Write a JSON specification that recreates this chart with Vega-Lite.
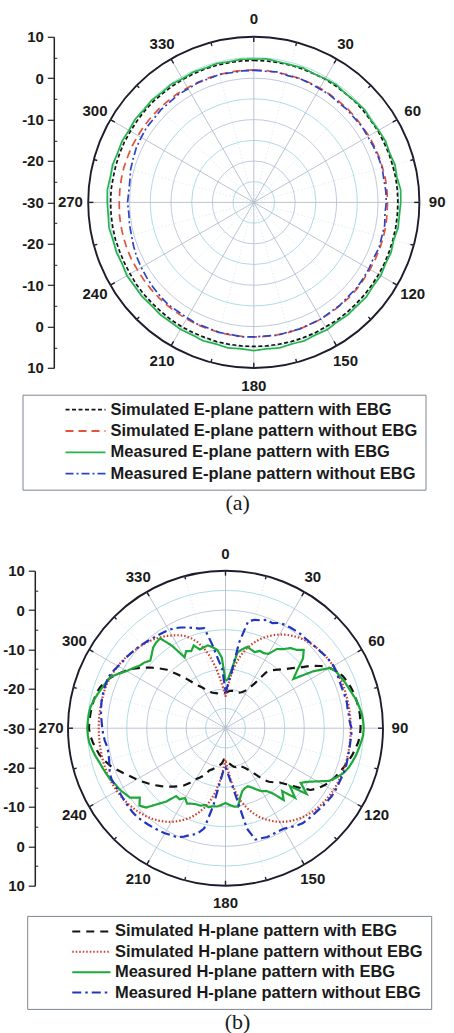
{
"$schema": "https://vega.github.io/schema/vega-lite/v6.json",
"background": "white",
"padding": {"left": 2, "top": 11.8, "right": 0, "bottom": 0},
"spacing": 31.9,
"config": {"view": {"stroke": null}},
"datasets": {
"rings": [{"g":-25},{"g":-20},{"g":-15},{"g":-10},{"g":-5},{"g":0},{"g":5},{"g":10}],
"ang": [{"a":0},{"a":15},{"a":30},{"a":45},{"a":60},{"a":75},{"a":90},{"a":105},{"a":120},{"a":135},{"a":150},{"a":165},{"a":180},{"a":195},{"a":210},{"a":225},{"a":240},{"a":255},{"a":270},{"a":285},{"a":300},{"a":315},{"a":330},{"a":345}],
"e": [
{"a":0,"p":4.3,"q":2.0,"r":4.6,"s":1.9},{"a":5,"p":4.3,"q":2.0,"r":4.8,"s":1.8},{"a":10,"p":4.3,"q":1.9,"r":4.5,"s":2.0},{"a":15,"p":4.3,"q":1.9,"r":4.4,"s":1.7},{"a":20,"p":4.3,"q":1.9,"r":4.6,"s":1.9},{"a":25,"p":4.3,"q":1.9,"r":4.3,"s":1.8},{"a":30,"p":4.4,"q":1.9,"r":4.5,"s":1.7},{"a":35,"p":4.4,"q":1.9,"r":4.7,"s":1.8},{"a":40,"p":4.4,"q":1.9,"r":4.4,"s":1.6},{"a":45,"p":4.5,"q":2.0,"r":4.6,"s":1.8},{"a":50,"p":4.5,"q":2.0,"r":4.9,"s":1.7},{"a":55,"p":4.5,"q":2.0,"r":4.6,"s":1.9},{"a":60,"p":4.6,"q":2.1,"r":4.8,"s":1.8},{"a":65,"p":4.6,"q":2.1,"r":5.1,"s":1.9},{"a":70,"p":4.7,"q":2.2,"r":4.9,"s":2.0},{"a":75,"p":4.7,"q":2.2,"r":5.3,"s":2.1},{"a":80,"p":4.8,"q":2.3,"r":5.1,"s":1.9},{"a":85,"p":4.8,"q":2.3,"r":5.6,"s":2.0},{"a":90,"p":4.8,"q":2.3,"r":5.5,"s":2.0},{"a":95,"p":4.8,"q":2.3,"r":5.3,"s":1.8},{"a":100,"p":4.8,"q":2.4,"r":5.4,"s":2.1},{"a":105,"p":4.8,"q":2.4,"r":5.0,"s":2.0},{"a":110,"p":4.8,"q":2.4,"r":5.3,"s":2.2},{"a":115,"p":4.8,"q":2.4,"r":5.1,"s":1.9},{"a":120,"p":4.8,"q":2.4,"r":5.4,"s":2.1},{"a":125,"p":4.8,"q":2.4,"r":5.2,"s":2.2},{"a":130,"p":4.8,"q":2.5,"r":5.5,"s":2.3},{"a":135,"p":4.8,"q":2.5,"r":5.3,"s":2.2},{"a":140,"p":4.8,"q":2.5,"r":5.4,"s":2.4},{"a":145,"p":4.8,"q":2.5,"r":5.2,"s":2.3},{"a":150,"p":4.7,"q":2.5,"r":5.5,"s":2.5},{"a":155,"p":4.8,"q":2.5,"r":5.3,"s":2.4},{"a":160,"p":4.8,"q":2.5,"r":5.6,"s":2.5},{"a":165,"p":4.8,"q":2.5,"r":5.4,"s":2.4},{"a":170,"p":4.8,"q":2.5,"r":5.7,"s":2.6},{"a":175,"p":4.8,"q":2.5,"r":5.5,"s":2.4},{"a":180,"p":4.8,"q":2.5,"r":5.8,"s":2.5},{"a":185,"p":4.8,"q":2.5,"r":5.5,"s":2.6},{"a":190,"p":4.8,"q":2.5,"r":5.7,"s":2.4},{"a":195,"p":4.8,"q":2.5,"r":5.4,"s":2.5},{"a":200,"p":4.7,"q":2.5,"r":5.6,"s":2.3},{"a":205,"p":4.7,"q":2.5,"r":5.3,"s":2.4},{"a":210,"p":4.7,"q":2.5,"r":5.4,"s":2.2},{"a":215,"p":4.7,"q":2.5,"r":5.2,"s":2.1},{"a":220,"p":4.6,"q":2.5,"r":5.3,"s":2.2},{"a":225,"p":4.6,"q":2.5,"r":5.1,"s":2.0},{"a":230,"p":4.6,"q":2.5,"r":5.3,"s":1.8},{"a":235,"p":4.6,"q":2.5,"r":5.2,"s":1.6},{"a":240,"p":4.5,"q":2.5,"r":5.4,"s":1.4},{"a":245,"p":4.5,"q":2.6,"r":5.1,"s":1.2},{"a":250,"p":4.5,"q":2.6,"r":5.3,"s":0.9},{"a":255,"p":4.6,"q":2.6,"r":5.2,"s":0.6},{"a":260,"p":4.6,"q":2.6,"r":5.5,"s":0.5},{"a":265,"p":4.6,"q":2.6,"r":5.3,"s":0.3},{"a":270,"p":4.6,"q":2.5,"r":5.4,"s":0.5},{"a":275,"p":4.6,"q":2.5,"r":5.5,"s":0.3},{"a":280,"p":4.5,"q":2.5,"r":5.2,"s":0.4},{"a":285,"p":4.5,"q":2.5,"r":5.3,"s":0.8},{"a":290,"p":4.5,"q":2.4,"r":5.0,"s":1.0},{"a":295,"p":4.5,"q":2.4,"r":5.1,"s":1.3},{"a":300,"p":4.4,"q":2.3,"r":4.8,"s":1.4},{"a":305,"p":4.4,"q":2.3,"r":5.0,"s":1.6},{"a":310,"p":4.4,"q":2.2,"r":4.7,"s":1.5},{"a":315,"p":4.4,"q":2.2,"r":4.9,"s":1.7},{"a":320,"p":4.3,"q":2.1,"r":4.6,"s":1.6},{"a":325,"p":4.3,"q":2.1,"r":4.8,"s":1.8},{"a":330,"p":4.3,"q":2.0,"r":4.5,"s":1.7},{"a":335,"p":4.3,"q":2.0,"r":4.7,"s":1.9},{"a":340,"p":4.3,"q":2.0,"r":4.5,"s":1.8},{"a":345,"p":4.3,"q":2.0,"r":4.7,"s":2.0},{"a":350,"p":4.3,"q":2.0,"r":4.5,"s":1.8},{"a":355,"p":4.3,"q":2.0,"r":4.7,"s":1.9},{"a":360,"p":4.3,"q":2.0,"r":4.6,"s":1.9}
],
"h": [
{"a":0,"p":-21,"q":-22,"r":-18,"s":-21},{"a":3,"p":-20.8,"q":-19.5,"r":-17.5,"s":-19},{"a":6,"p":-20.5,"q":-16.5,"r":-15,"s":-16},{"a":9,"p":-20.4,"q":-13.5,"r":-10.5,"s":-8},{"a":12,"p":-20.3,"q":-11,"r":-9.5,"s":-2.2},{"a":15,"p":-20.4,"q":-9,"r":-8.6,"s":-1.5},{"a":18,"p":-20.5,"q":-7.3,"r":-9,"s":-1.2},{"a":21,"p":-20.3,"q":-5.8,"r":-9.3,"s":-0.5},{"a":24,"p":-20,"q":-4.6,"r":-8.5,"s":-0.8},{"a":27,"p":-19.5,"q":-3.5,"r":-8.6,"s":0},{"a":30,"p":-18.5,"q":-2.5,"r":-8.2,"s":0.3},{"a":33,"p":-16.5,"q":-1.7,"r":-6,"s":0.4},{"a":36,"p":-12.5,"q":-1.0,"r":-5.2,"s":0.5},{"a":39,"p":-11,"q":-0.4,"r":-3.8,"s":0.6},{"a":42,"p":-10,"q":0.1,"r":-3.2,"s":0.5},{"a":45,"p":-8.8,"q":0.5,"r":-1.9,"s":0.6},{"a":48,"p":-7.2,"q":0.8,"r":-3.5,"s":0.8},{"a":51,"p":-5.5,"q":1.1,"r":-6.5,"s":1.0},{"a":54,"p":-3,"q":1.3,"r":-8.7,"s":1.3},{"a":57,"p":-1,"q":1.5,"r":-3.5,"s":1.5},{"a":60,"p":0.6,"q":1.6,"r":0.6,"s":1.7},{"a":63,"p":1.8,"q":1.7,"r":1.6,"s":1.6},{"a":66,"p":2.6,"q":1.7,"r":2.0,"s":1.4},{"a":69,"p":3.1,"q":1.8,"r":2.5,"s":1.3},{"a":72,"p":3.5,"q":1.8,"r":2.9,"s":1.3},{"a":75,"p":3.8,"q":1.8,"r":3.4,"s":1.4},{"a":78,"p":4.0,"q":1.8,"r":4.0,"s":1.5},{"a":81,"p":4.2,"q":1.8,"r":4.4,"s":1.4},{"a":84,"p":4.3,"q":1.8,"r":4.8,"s":1.5},{"a":87,"p":4.3,"q":1.8,"r":5.0,"s":1.6},{"a":90,"p":4.3,"q":1.8,"r":5.1,"s":2.0},{"a":93,"p":4.2,"q":1.8,"r":5.0,"s":2.0},{"a":96,"p":3.9,"q":1.8,"r":4.6,"s":1.9},{"a":99,"p":3.4,"q":1.8,"r":4.2,"s":1.9},{"a":102,"p":2.9,"q":1.8,"r":3.8,"s":1.9},{"a":105,"p":2.3,"q":1.8,"r":3.3,"s":2.0},{"a":108,"p":1.7,"q":1.8,"r":2.8,"s":2.1},{"a":111,"p":1.1,"q":1.8,"r":2.0,"s":2.1},{"a":114,"p":0.5,"q":1.7,"r":0.8,"s":2.0},{"a":117,"p":-0.1,"q":1.7,"r":-0.5,"s":2.0},{"a":120,"p":-1,"q":1.6,"r":-3,"s":2.1},{"a":123,"p":-2,"q":1.5,"r":-5,"s":2.0},{"a":126,"p":-3.3,"q":1.3,"r":-6.4,"s":1.8},{"a":129,"p":-6,"q":1.1,"r":-3.5,"s":1.6},{"a":132,"p":-8.5,"q":0.8,"r":-8,"s":1.4},{"a":135,"p":-10.5,"q":0.5,"r":-5,"s":1.3},{"a":138,"p":-11.5,"q":0.1,"r":-8.5,"s":1.2},{"a":141,"p":-12.5,"q":-0.4,"r":-6.5,"s":1.1},{"a":144,"p":-14,"q":-1.0,"r":-9.5,"s":0.6},{"a":147,"p":-16,"q":-1.7,"r":-11,"s":0},{"a":150,"p":-17.5,"q":-2.5,"r":-11.5,"s":-0.5},{"a":153,"p":-18.5,"q":-3.5,"r":-12.5,"s":-0.6},{"a":156,"p":-19.2,"q":-4.6,"r":-13.5,"s":-0.5},{"a":159,"p":-19.7,"q":-5.8,"r":-14.2,"s":-0.4},{"a":162,"p":-20,"q":-7.3,"r":-14,"s":-0.6},{"a":165,"p":-19.8,"q":-9,"r":-13.5,"s":-0.7},{"a":168,"p":-20,"q":-11,"r":-12,"s":-4},{"a":171,"p":-20.5,"q":-13.5,"r":-9.8,"s":-12},{"a":174,"p":-21,"q":-16.5,"r":-10,"s":-16},{"a":177,"p":-21.5,"q":-19.5,"r":-10.5,"s":-18.5},{"a":180,"p":-22,"q":-22,"r":-11,"s":-20},
{"a":183,"p":-22,"q":-19.5,"r":-10.5,"s":-19},{"a":186,"p":-21,"q":-16.5,"r":-10,"s":-16},{"a":189,"p":-20.5,"q":-13.5,"r":-9.9,"s":-10},{"a":192,"p":-20,"q":-11,"r":-9.5,"s":-4},{"a":195,"p":-19.5,"q":-9,"r":-9.8,"s":-2.2},{"a":198,"p":-19,"q":-7.3,"r":-9.3,"s":-1.5},{"a":201,"p":-18.5,"q":-5.8,"r":-9.3,"s":-0.5},{"a":204,"p":-17,"q":-4.6,"r":-9,"s":0.3},{"a":207,"p":-16,"q":-3.5,"r":-8.5,"s":0.5},{"a":210,"p":-15,"q":-2.5,"r":-9.5,"s":0.8},{"a":213,"p":-13.5,"q":-1.7,"r":-8.5,"s":1.0},{"a":216,"p":-12,"q":-1.0,"r":-8.7,"s":1.2},{"a":219,"p":-11,"q":-0.4,"r":-6,"s":1.4},{"a":222,"p":-10,"q":0.1,"r":-4,"s":1.6},{"a":225,"p":-9,"q":0.5,"r":-1.5,"s":1.8},{"a":228,"p":-8,"q":0.9,"r":-0.6,"s":1.8},{"a":231,"p":-7,"q":1.2,"r":-2,"s":1.7},{"a":234,"p":-6,"q":1.5,"r":0,"s":1.6},{"a":237,"p":-5,"q":1.7,"r":0.5,"s":1.5},{"a":240,"p":-4,"q":1.9,"r":1.1,"s":1.5},{"a":243,"p":-3,"q":2.0,"r":1.4,"s":1.6},{"a":246,"p":-1.8,"q":2.1,"r":2.0,"s":1.7},{"a":249,"p":-0.5,"q":2.2,"r":2.4,"s":1.5},{"a":252,"p":0.8,"q":2.2,"r":2.8,"s":1.0},{"a":255,"p":1.8,"q":2.2,"r":3.2,"s":0.6},{"a":258,"p":2.7,"q":2.2,"r":3.8,"s":0.4},{"a":261,"p":3.3,"q":2.2,"r":4.3,"s":0.4},{"a":264,"p":3.9,"q":2.2,"r":4.8,"s":0.8},{"a":267,"p":4.4,"q":2.2,"r":5.0,"s":1.1},{"a":270,"p":4.7,"q":2.2,"r":5.1,"s":1.3},{"a":273,"p":4.6,"q":2.2,"r":5.0,"s":1.5},{"a":276,"p":4.5,"q":2.2,"r":4.9,"s":1.8},{"a":279,"p":4.4,"q":2.2,"r":4.7,"s":2.0},{"a":282,"p":4.2,"q":2.2,"r":4.2,"s":2.2},{"a":285,"p":4.0,"q":2.2,"r":3.6,"s":2.3},{"a":288,"p":3.5,"q":2.2,"r":3.0,"s":2.4},{"a":291,"p":2.8,"q":2.1,"r":2.5,"s":2.4},{"a":294,"p":1.8,"q":2.0,"r":2.0,"s":2.4},{"a":297,"p":0.5,"q":1.8,"r":0.5,"s":2.0},{"a":300,"p":-0.8,"q":1.6,"r":-1,"s":1.5},{"a":303,"p":-2.2,"q":1.3,"r":-2,"s":1.1},{"a":306,"p":-3.8,"q":1.0,"r":-3,"s":0.9},{"a":309,"p":-5.5,"q":0.6,"r":-3.5,"s":0.6},{"a":312,"p":-7.3,"q":0.2,"r":-4.3,"s":0.3},{"a":315,"p":-9,"q":-0.1,"r":-3.5,"s":0.0},{"a":318,"p":-11.5,"q":-0.5,"r":-2.5,"s":-0.3},{"a":321,"p":-13.5,"q":-1.0,"r":-2,"s":-0.6},{"a":324,"p":-15.5,"q":-1.5,"r":-1.8,"s":-0.8},{"a":327,"p":-17,"q":-2.1,"r":-5,"s":-1.0},{"a":330,"p":-18,"q":-2.8,"r":-9.2,"s":-1.2},{"a":333,"p":-19,"q":-3.5,"r":-8,"s":-1.5},{"a":336,"p":-19.8,"q":-4.3,"r":-8.6,"s":-2.0},{"a":339,"p":-20.3,"q":-5.5,"r":-7.5,"s":-2.6},{"a":342,"p":-20.6,"q":-7,"r":-9,"s":-3.2},{"a":345,"p":-20.8,"q":-9,"r":-8.7,"s":-3.8},{"a":348,"p":-21,"q":-11.5,"r":-8.5,"s":-4.0},{"a":351,"p":-21,"q":-14.5,"r":-9.2,"s":-8.5},{"a":354,"p":-21,"q":-17.5,"r":-10,"s":-12.5},{"a":357,"p":-21,"q":-20,"r":-12,"s":-15},{"a":360,"p":-21,"q":-22,"r":-18,"s":-21}
]
},
"vconcat": [
{
"width": 351.4, "height": 331.2,
"title": {"text": "(a)", "orient": "bottom", "frame": "group", "anchor": "middle", "offset": 3, "dx": -6, "font": "Liberation Serif", "fontSize": 22, "fontWeight": "normal", "color": "#1a1a1a"},
"resolve": {"axis": {"y": "independent"}},
"layer": [
{"data": {"name": "rings"}, "transform": [{"calculate": "datum.g + 30", "as": "gr"}],
 "mark": {"type": "arc", "filled": false, "theta": 0, "theta2": 6.2832},
 "encoding": {
  "x": {"datum": 0, "type": "quantitative", "scale": {"domain": [-44.88, 40], "nice": false, "zero": false}, "axis": null},
  "y": {"datum": 0, "type": "quantitative", "scale": {"domain": [-40, 40], "nice": false, "zero": false}, "axis": {"orient": "left", "offset": 14.2, "values": [-35,-25,-15,-5,5,15,25,35], "labels": false, "domain": false, "grid": false, "tickSize": -3, "tickColor": "#222222", "tickWidth": 1, "title": null}},
  "radius": {"field": "gr", "type": "quantitative", "stack": null, "scale": {"type": "linear", "domain": [0, 40], "range": [0, 165.6], "nice": false}},
  "stroke": {"condition": [{"test": "datum.g == 10", "value": "#1c1c2c"}, {"test": "(datum.g + 30) % 10 == 5", "value": "#9fd6de"}], "value": "#b3c0d8"},
  "strokeWidth": {"condition": {"test": "datum.g == 10", "value": 1.9}, "value": 0.85},
  "strokeDash": {"condition": {"test": "(datum.g + 30) % 10 == 5", "value": [1.5, 2]}, "value": [1, 0]}
 }},
{"data": {"name": "ang"}, "transform": [{"filter": "datum.a % 30 == 15"}, {"calculate": "40*sin(datum.a*PI/180)", "as": "ex"}, {"calculate": "40*cos(datum.a*PI/180)", "as": "ey"}],
 "mark": {"type": "rule", "stroke": "#cfe7eb", "strokeWidth": 0.7, "strokeDash": [1.5, 2]},
 "encoding": {
  "x": {"field": "ex", "type": "quantitative", "scale": {"domain": [-44.88, 40], "nice": false, "zero": false}, "axis": null},
  "y": {"field": "ey", "type": "quantitative", "scale": {"domain": [-40, 40], "nice": false, "zero": false}, "axis": null},
  "x2": {"datum": 0}, "y2": {"datum": 0}
 }},
{"data": {"name": "ang"}, "transform": [{"filter": "datum.a % 30 == 0"}, {"calculate": "40*sin(datum.a*PI/180)", "as": "ex"}, {"calculate": "40*cos(datum.a*PI/180)", "as": "ey"}],
 "mark": {"type": "rule", "stroke": "#b3bccc", "strokeWidth": 0.9},
 "encoding": {
  "x": {"field": "ex", "type": "quantitative", "scale": {"domain": [-44.88, 40], "nice": false, "zero": false}, "axis": null},
  "y": {"field": "ey", "type": "quantitative", "scale": {"domain": [-40, 40], "nice": false, "zero": false}, "axis": null},
  "x2": {"datum": 0}, "y2": {"datum": 0}
 }},
{"data": {"name": "ang"}, "transform": [{"calculate": "datum.a % 30 == 0 ? 1.25 : 0.85", "as": "len"}, {"calculate": "40*sin(datum.a*PI/180)", "as": "ex"}, {"calculate": "40*cos(datum.a*PI/180)", "as": "ey"}, {"calculate": "(40-datum.len)*sin(datum.a*PI/180)", "as": "ix"}, {"calculate": "(40-datum.len)*cos(datum.a*PI/180)", "as": "iy"}],
 "mark": {"type": "rule", "stroke": "#1c1c2c", "strokeWidth": 1.4},
 "encoding": {
  "x": {"field": "ex", "type": "quantitative", "scale": {"domain": [-44.88, 40], "nice": false, "zero": false}, "axis": null},
  "y": {"field": "ey", "type": "quantitative", "scale": {"domain": [-40, 40], "nice": false, "zero": false}, "axis": null},
  "x2": {"field": "ix"}, "y2": {"field": "iy"}
 }},
{"data": {"name": "ang"}, "transform": [{"filter": "datum.a % 30 == 0"}, {"calculate": "44.3*sin(datum.a*PI/180)", "as": "lx"}, {"calculate": "44.3*cos(datum.a*PI/180)", "as": "ly"}],
 "mark": {"type": "text", "font": "Liberation Sans", "fontWeight": "bold", "fontSize": 15, "fill": "#1a1a1a", "align": "center", "baseline": "middle"},
 "encoding": {
  "x": {"field": "lx", "type": "quantitative", "scale": {"domain": [-44.88, 40], "nice": false, "zero": false}, "axis": null},
  "y": {"field": "ly", "type": "quantitative", "scale": {"domain": [-40, 40], "nice": false, "zero": false}, "axis": null},
  "text": {"field": "a", "type": "nominal"}
 }},
{"data": {"name": "e"}, "transform": [{"fold": ["p","q","r","s"], "as": ["k","v"]}, {"calculate": "max(0, datum.v + 30)", "as": "rr"}, {"calculate": "datum.rr*sin(datum.a*PI/180)", "as": "x"}, {"calculate": "datum.rr*cos(datum.a*PI/180)", "as": "y"}],
 "mark": {"type": "line", "strokeWidth": 1.7},
 "encoding": {
  "x": {"field": "x", "type": "quantitative", "scale": {"domain": [-44.88, 40], "nice": false, "zero": false}, "axis": null},
  "y": {"field": "y", "type": "quantitative", "scale": {"domain": [-40, 40], "nice": false, "zero": false}, "axis": {"orient": "left", "offset": 14.2, "values": [-40,-30,-20,-10,0,10,20,30,40], "labelExpr": "abs(datum.value) - 30", "tickSize": 6.5, "tickWidth": 1.2, "tickColor": "#222222", "domainColor": "#222222", "domainWidth": 1.5, "labelFont": "Liberation Sans", "labelFontWeight": "bold", "labelFontSize": 15, "labelColor": "#1a1a1a", "labelPadding": 4, "grid": false, "title": null, "labelFlush": false, "labelOverlap": false}},
  "order": {"field": "a", "type": "quantitative"},
  "color": {"field": "k", "type": "nominal", "scale": {"domain": ["p","q","r","s"], "range": ["#141414","#e2553a","#25b34b","#2b44c8"]},
   "legend": {"orient": "none", "legendX": -45.5, "legendY": 357.9, "title": null, "direction": "vertical", "symbolType": "stroke", "symbolSize": 1600, "symbolStrokeWidth": 1.8, "clipHeight": 16, "rowPadding": 4.3, "padding": 7, "symbolOffset": 35, "labelOffset": 4, "labelAlign": "left", "labelFont": "Liberation Sans", "labelFontWeight": "bold", "labelFontSize": 16.5, "labelColor": "#1a1a1a", "strokeColor": "#7a8590", "fillColor": "white", "labelLimit": 400,
    "labelExpr": "datum.label == 'p' ? 'Simulated E-plane pattern with EBG' : datum.label == 'q' ? 'Simulated E-plane pattern without EBG' : datum.label == 'r' ? 'Measured E-plane pattern with EBG' : 'Measured E-plane pattern without EBG'"}},
  "strokeDash": {"field": "k", "type": "nominal", "scale": {"domain": ["p","q","r","s"], "range": [[4,2.5],[8,5],[1,0],[8,3,2,3]]},
   "legend": {"orient": "none", "legendX": -45.5, "legendY": 357.9, "title": null, "direction": "vertical", "symbolType": "stroke", "symbolSize": 1600, "symbolStrokeWidth": 1.8, "clipHeight": 16, "rowPadding": 4.3, "padding": 7, "symbolOffset": 35, "labelOffset": 4, "labelAlign": "left", "labelFont": "Liberation Sans", "labelFontWeight": "bold", "labelFontSize": 16.5, "labelColor": "#1a1a1a", "strokeColor": "#7a8590", "fillColor": "white", "labelLimit": 400,
    "labelExpr": "datum.label == 'p' ? 'Simulated E-plane pattern with EBG' : datum.label == 'q' ? 'Simulated E-plane pattern without EBG' : datum.label == 'r' ? 'Measured E-plane pattern with EBG' : 'Measured E-plane pattern without EBG'"}}
 }}
]
},
{
"width": 315, "height": 315,
"title": {"text": "(b)", "orient": "bottom", "frame": "group", "anchor": "middle", "offset": 3, "dx": 12, "font": "Liberation Serif", "fontSize": 22, "fontWeight": "normal", "color": "#1a1a1a"},
"resolve": {"axis": {"y": "independent"}},
"layer": [
{"data": {"name": "rings"}, "transform": [{"calculate": "datum.g + 30", "as": "gr"}],
 "mark": {"type": "arc", "filled": false, "theta": 0, "theta2": 6.2832},
 "encoding": {
  "x": {"datum": 0, "type": "quantitative", "scale": {"domain": [-40, 40], "nice": false, "zero": false}, "axis": null},
  "y": {"datum": 0, "type": "quantitative", "scale": {"domain": [-40, 40], "nice": false, "zero": false}, "axis": {"orient": "left", "offset": 33.2, "values": [-35,-25,-15,-5,5,15,25,35], "labels": false, "domain": false, "grid": false, "tickSize": -3, "tickColor": "#222222", "tickWidth": 1, "title": null}},
  "radius": {"field": "gr", "type": "quantitative", "stack": null, "scale": {"type": "linear", "domain": [0, 40], "range": [0, 157.5], "nice": false}},
  "stroke": {"condition": [{"test": "datum.g == 10", "value": "#1c1c2c"}, {"test": "(datum.g + 30) % 10 == 5", "value": "#9fd6de"}], "value": "#b3c0d8"},
  "strokeWidth": {"condition": {"test": "datum.g == 10", "value": 1.9}, "value": 0.85},
  "strokeDash": {"condition": {"test": "(datum.g + 30) % 10 == 5", "value": [1.5, 2]}, "value": [1, 0]}
 }},
{"data": {"name": "ang"}, "transform": [{"filter": "datum.a % 30 == 15"}, {"calculate": "40*sin(datum.a*PI/180)", "as": "ex"}, {"calculate": "40*cos(datum.a*PI/180)", "as": "ey"}],
 "mark": {"type": "rule", "stroke": "#cfe7eb", "strokeWidth": 0.7, "strokeDash": [1.5, 2]},
 "encoding": {
  "x": {"field": "ex", "type": "quantitative", "scale": {"domain": [-40, 40], "nice": false, "zero": false}, "axis": null},
  "y": {"field": "ey", "type": "quantitative", "scale": {"domain": [-40, 40], "nice": false, "zero": false}, "axis": null},
  "x2": {"datum": 0}, "y2": {"datum": 0}
 }},
{"data": {"name": "ang"}, "transform": [{"filter": "datum.a % 30 == 0"}, {"calculate": "40*sin(datum.a*PI/180)", "as": "ex"}, {"calculate": "40*cos(datum.a*PI/180)", "as": "ey"}],
 "mark": {"type": "rule", "stroke": "#b3bccc", "strokeWidth": 0.9},
 "encoding": {
  "x": {"field": "ex", "type": "quantitative", "scale": {"domain": [-40, 40], "nice": false, "zero": false}, "axis": null},
  "y": {"field": "ey", "type": "quantitative", "scale": {"domain": [-40, 40], "nice": false, "zero": false}, "axis": null},
  "x2": {"datum": 0}, "y2": {"datum": 0}
 }},
{"data": {"name": "ang"}, "transform": [{"calculate": "datum.a % 30 == 0 ? 1.25 : 0.85", "as": "len"}, {"calculate": "40*sin(datum.a*PI/180)", "as": "ex"}, {"calculate": "40*cos(datum.a*PI/180)", "as": "ey"}, {"calculate": "(40-datum.len)*sin(datum.a*PI/180)", "as": "ix"}, {"calculate": "(40-datum.len)*cos(datum.a*PI/180)", "as": "iy"}],
 "mark": {"type": "rule", "stroke": "#1c1c2c", "strokeWidth": 1.4},
 "encoding": {
  "x": {"field": "ex", "type": "quantitative", "scale": {"domain": [-40, 40], "nice": false, "zero": false}, "axis": null},
  "y": {"field": "ey", "type": "quantitative", "scale": {"domain": [-40, 40], "nice": false, "zero": false}, "axis": null},
  "x2": {"field": "ix"}, "y2": {"field": "iy"}
 }},
{"data": {"name": "ang"}, "transform": [{"filter": "datum.a % 30 == 0"}, {"calculate": "44.3*sin(datum.a*PI/180)", "as": "lx"}, {"calculate": "44.3*cos(datum.a*PI/180)", "as": "ly"}],
 "mark": {"type": "text", "font": "Liberation Sans", "fontWeight": "bold", "fontSize": 15, "fill": "#1a1a1a", "align": "center", "baseline": "middle"},
 "encoding": {
  "x": {"field": "lx", "type": "quantitative", "scale": {"domain": [-40, 40], "nice": false, "zero": false}, "axis": null},
  "y": {"field": "ly", "type": "quantitative", "scale": {"domain": [-40, 40], "nice": false, "zero": false}, "axis": null},
  "text": {"field": "a", "type": "nominal"}
 }},
{"data": {"name": "h"}, "transform": [{"fold": ["p","q","r","s"], "as": ["k","v"]}, {"calculate": "max(0, datum.v + 30)", "as": "rr"}, {"calculate": "datum.rr*sin(datum.a*PI/180)", "as": "x"}, {"calculate": "datum.rr*cos(datum.a*PI/180)", "as": "y"}],
 "mark": {"type": "line", "strokeWidth": 2.2},
 "encoding": {
  "x": {"field": "x", "type": "quantitative", "scale": {"domain": [-40, 40], "nice": false, "zero": false}, "axis": null},
  "y": {"field": "y", "type": "quantitative", "scale": {"domain": [-40, 40], "nice": false, "zero": false}, "axis": {"orient": "left", "offset": 33.2, "values": [-40,-30,-20,-10,0,10,20,30,40], "labelExpr": "abs(datum.value) - 30", "tickSize": 6.5, "tickWidth": 1.2, "tickColor": "#222222", "domainColor": "#222222", "domainWidth": 1.5, "labelFont": "Liberation Sans", "labelFontWeight": "bold", "labelFontSize": 15, "labelColor": "#1a1a1a", "labelPadding": 4, "grid": false, "title": null, "labelFlush": false, "labelOverlap": false}},
  "order": {"field": "a", "type": "quantitative"},
  "color": {"field": "k", "type": "nominal", "scale": {"domain": ["p","q","r","s"], "range": ["#141414","#d33c2a","#1da83a","#2136bf"]},
   "legend": {"orient": "none", "legendX": -40.8, "legendY": 345.2, "title": null, "direction": "vertical", "symbolType": "stroke", "symbolSize": 1467, "symbolStrokeWidth": 2, "clipHeight": 16, "rowPadding": 3.4, "padding": 7.5, "symbolOffset": 36.2, "labelOffset": 3, "labelAlign": "left", "labelFont": "Liberation Sans", "labelFontWeight": "bold", "labelFontSize": 16.5, "labelColor": "#1a1a1a", "strokeColor": "#7a8590", "fillColor": "white", "labelLimit": 400,
    "labelExpr": "datum.label == 'p' ? 'Simulated H-plane pattern with EBG' : datum.label == 'q' ? 'Simulated H-plane pattern without EBG' : datum.label == 'r' ? 'Measured H-plane pattern with EBG' : 'Measured H-plane pattern without EBG'"}},
  "strokeDash": {"field": "k", "type": "nominal", "scale": {"domain": ["p","q","r","s"], "range": [[8,6],[1.5,2],[1,0],[9,4,2.5,4]]},
   "legend": {"orient": "none", "legendX": -40.8, "legendY": 345.2, "title": null, "direction": "vertical", "symbolType": "stroke", "symbolSize": 1467, "symbolStrokeWidth": 2, "clipHeight": 16, "rowPadding": 3.4, "padding": 7.5, "symbolOffset": 36.2, "labelOffset": 3, "labelAlign": "left", "labelFont": "Liberation Sans", "labelFontWeight": "bold", "labelFontSize": 16.5, "labelColor": "#1a1a1a", "strokeColor": "#7a8590", "fillColor": "white", "labelLimit": 400,
    "labelExpr": "datum.label == 'p' ? 'Simulated H-plane pattern with EBG' : datum.label == 'q' ? 'Simulated H-plane pattern without EBG' : datum.label == 'r' ? 'Measured H-plane pattern with EBG' : 'Measured H-plane pattern without EBG'"}}
 }}
]
}
],
"resolve": {"scale": {"x": "independent", "y": "independent", "color": "independent", "strokeDash": "independent", "radius": "independent"}, "legend": {"color": "independent", "strokeDash": "independent"}}
}
